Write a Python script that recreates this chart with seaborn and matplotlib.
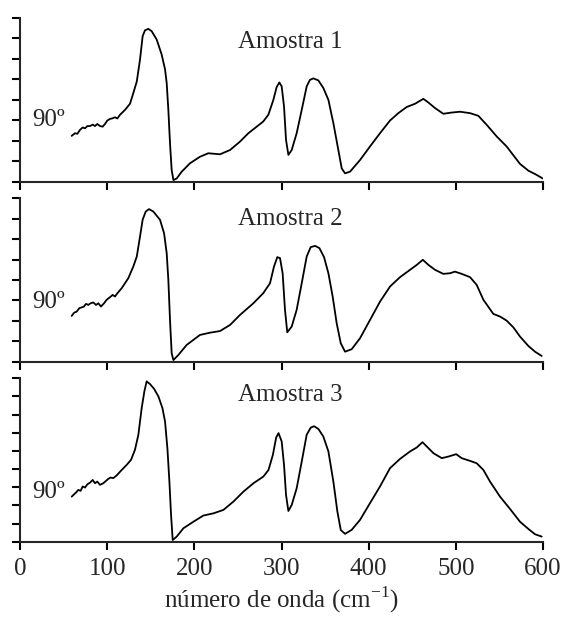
import matplotlib
matplotlib.use("Agg")
import matplotlib.pyplot as plt
import seaborn as sns
import pandas as pd

# espectros (x em cm-1, intensidade em unidades arbitrarias)
x1 = [59.3, 63.1, 65.8, 68.8, 71.9, 74.6, 77.3, 80.3, 83.4, 86.0, 88.7, 91.8, 94.8, 97.5,
      100.2, 103.3, 106.3, 109.0, 111.7, 114.7, 120.5, 126.2, 130.0, 134.0, 137.7, 140.7,
      143.4, 147.2, 151.0, 156.8, 162.5, 166.4, 168.3, 170.2, 172.1, 174.0, 176.0, 179.8,
      185.5, 195.0, 206.5, 216.0, 229.5, 241.0, 252.4, 262.0, 279.0, 284.9, 290.6, 294.4,
      297.5, 300.2, 302.9, 305.2, 307.9, 311.7, 317.4, 323.2, 328.9, 332.7, 336.6, 342.3,
      348.0, 353.8, 359.5, 365.2, 369.1, 372.9, 378.6, 390.1, 401.5, 413.0, 424.5, 434.0,
      443.6, 453.2, 462.7, 468.5, 476.1, 485.6, 495.2, 504.8, 516.3, 525.8, 535.4, 546.9,
      558.3, 573.6, 583.2, 592.8, 599.6]
y1 = [2.24, 2.37, 2.34, 2.53, 2.65, 2.61, 2.72, 2.72, 2.79, 2.72, 2.82, 2.72, 2.69, 2.82,
      2.99, 3.07, 3.10, 3.15, 3.09, 3.27, 3.51, 3.81, 4.33, 4.90, 5.97, 7.11,
      7.40, 7.47, 7.36, 6.95, 6.22, 5.49, 4.82, 3.51, 1.88, 0.57, 0.08, 0.16,
      0.49, 0.90, 1.22, 1.39, 1.34, 1.55, 1.96, 2.37, 2.94, 3.27, 3.99, 4.62,
      4.85, 4.66, 3.68, 2.04, 1.31, 1.55, 2.37, 3.51, 4.66, 4.98, 5.05, 4.95,
      4.58, 4.00, 2.86, 1.55, 0.65, 0.41, 0.49, 1.06, 1.72, 2.37, 2.99, 3.35,
      3.65, 3.81, 4.05, 3.87, 3.60, 3.32, 3.38, 3.42, 3.35, 3.22, 2.78, 2.21,
      1.72, 0.87, 0.54, 0.33, 0.16]

x2 = [59.3, 62.1, 65.0, 68.1, 70.8, 73.4, 75.7, 78.4, 81.0, 84.1, 87.2, 89.9, 92.9, 96.4,
      99.4, 103.3, 106.3, 109.0, 111.7, 116.7, 124.3, 130.0, 134.0, 137.7, 140.7, 144.2,
      148.0, 153.0, 160.6, 165.3, 168.3, 170.2, 172.1, 174.0, 176.0, 181.7, 191.2, 206.5,
      218.0, 229.5, 241.0, 252.4, 267.7, 279.0, 286.8, 291.4, 295.2, 298.3, 301.3, 304.0,
      306.6, 311.7, 317.4, 323.2, 328.9, 333.5, 338.6, 343.5, 348.8, 353.8, 358.7, 363.3,
      368.0, 372.9, 380.5, 390.1, 401.5, 413.0, 424.5, 436.0, 447.5, 455.2, 462.1, 468.5,
      476.1, 485.6, 493.3, 499.0, 506.7, 516.3, 523.9, 531.6, 543.0, 550.7, 558.3, 566.0,
      573.6, 583.2, 590.8, 598.5]
y2 = [2.24, 2.40, 2.45, 2.62, 2.66, 2.70, 2.83, 2.78, 2.86, 2.90, 2.78, 2.86, 2.70, 2.86,
      3.03, 3.16, 3.27, 3.19, 3.35, 3.60, 4.09, 4.66, 5.15, 6.13, 6.95, 7.35,
      7.47, 7.35, 6.95, 6.29, 5.31, 4.00, 2.04, 0.41, 0.08, 0.33, 0.82, 1.31,
      1.42, 1.50, 1.80, 2.29, 2.86, 3.35, 3.84, 4.66, 5.12, 5.07, 4.33, 2.54,
      1.44, 1.72, 2.54, 3.84, 5.15, 5.61, 5.67, 5.56, 5.12, 4.33, 3.19, 1.88,
      0.90, 0.49, 0.61, 1.15, 2.04, 2.94, 3.68, 4.14, 4.50, 4.74, 4.99, 4.74,
      4.50, 4.30, 4.33, 4.41, 4.30, 4.14, 3.76, 3.03, 2.34, 2.21, 2.01, 1.68,
      1.23, 0.77, 0.49, 0.28]

x3 = [59.3, 62.1, 64.3, 66.9, 69.6, 71.9, 74.6, 77.3, 80.3, 83.4, 86.0, 88.7, 91.8, 95.6,
      98.7, 101.3, 104.0, 107.1, 110.9, 116.7, 122.4, 127.4, 131.9, 135.8, 139.6, 142.7,
      145.3, 149.2, 153.8, 158.8, 163.4, 166.4, 169.1, 171.4, 173.3, 175.2, 179.8, 187.5,
      199.0, 210.4, 221.9, 233.4, 244.9, 256.4, 267.9, 279.3, 285.1, 290.1, 293.9, 296.6,
      300.2, 302.9, 305.2, 307.9, 311.7, 317.4, 323.2, 328.9, 333.5, 337.3, 342.3, 348.0,
      353.8, 359.5, 364.1, 368.0, 372.9, 380.5, 390.1, 401.5, 413.0, 424.5, 436.0, 447.5,
      455.2, 461.7, 466.7, 474.4, 483.9, 491.6, 500.4, 506.7, 516.3, 523.9, 531.6, 539.2,
      550.7, 562.2, 573.6, 583.2, 590.8, 598.5]
y3 = [2.48, 2.61, 2.71, 2.85, 2.80, 3.04, 2.98, 3.16, 3.25, 3.40, 3.22, 3.31, 3.13, 3.22,
      3.35, 3.46, 3.53, 3.50, 3.65, 3.95, 4.23, 4.51, 5.06, 5.89, 7.36, 8.28,
      8.83, 8.68, 8.42, 8.00, 7.36, 6.62, 5.15, 3.31, 1.47, 0.09, 0.28, 0.74,
      1.10, 1.44, 1.56, 1.75, 2.21, 2.76, 3.22, 3.59, 3.95, 4.78, 5.74, 5.98,
      5.52, 4.23, 2.57, 1.69, 2.02, 2.94, 4.41, 5.89, 6.28, 6.36, 6.21, 5.79,
      4.97, 3.31, 1.66, 0.64, 0.43, 0.65, 1.20, 2.12, 3.04, 4.05, 4.56, 4.97,
      5.19, 5.48, 5.24, 4.87, 4.60, 4.69, 4.82, 4.60, 4.45, 4.32, 3.95, 3.31,
      2.48, 1.80, 1.10, 0.70, 0.41, 0.28]

amostras = ["Amostra 1", "Amostra 2", "Amostra 3"]
angulo = "90º"
x_ticks = [0, 100, 200, 300, 400, 500, 600]
y_max = [8, 8, 9]

sns.set_style("ticks")
plt.rcParams["font.family"] = ["Liberation Serif", "DejaVu Serif"]
plt.rcParams["mathtext.fontset"] = "custom"
plt.rcParams["mathtext.rm"] = "Liberation Serif"
plt.rcParams["axes.linewidth"] = 1.5
plt.rcParams["xtick.major.width"] = 1.5
plt.rcParams["ytick.major.width"] = 1.5

fig = plt.figure(figsize=(5.63, 6.17), dpi=100)
boxes = [[0.0355, 0.7055, 0.929, 0.2653],
         [0.0355, 0.4138, 0.929, 0.2648],
         [0.0355, 0.1221, 0.929, 0.2648]]
series = [(x1, y1), (x2, y2), (x3, y3)]
label_y = [0.853, 0.873, 0.898]
ang_y = [0.377, 0.365, 0.304]

for i, (xs, ys) in enumerate(series):
    ax = fig.add_axes(boxes[i])
    df = pd.DataFrame({"x": xs, "y": ys})
    sns.lineplot(data=df, x="x", y="y", ax=ax, color="black", linewidth=1.3,
                 sort=False, estimator=None)
    ax.set_xlim(0, 600)
    ax.set_ylim(0, y_max[i])
    ax.set_xticks(x_ticks)
    ax.set_yticks(range(y_max[i] + 1))
    ax.set_yticklabels([])
    ax.tick_params(axis="both", direction="out", length=6, color="black")
    ax.set_ylabel("")
    ax.set_xlabel("")
    sns.despine(ax=ax)
    ax.text(0.516, label_y[i], amostras[i], transform=ax.transAxes,
            ha="center", va="center", fontsize=18)
    ax.text(0.055, ang_y[i], angulo, transform=ax.transAxes,
            ha="center", va="center", fontsize=18)
    if i < 2:
        ax.set_xticklabels([])
    else:
        ax.tick_params(axis="x", labelsize=18, pad=6)
        ax.set_xlabel(r"número de onda (cm$^{\mathrm{-1}}$)", fontsize=18, labelpad=3)

fig.savefig("out.png", dpi=100)
